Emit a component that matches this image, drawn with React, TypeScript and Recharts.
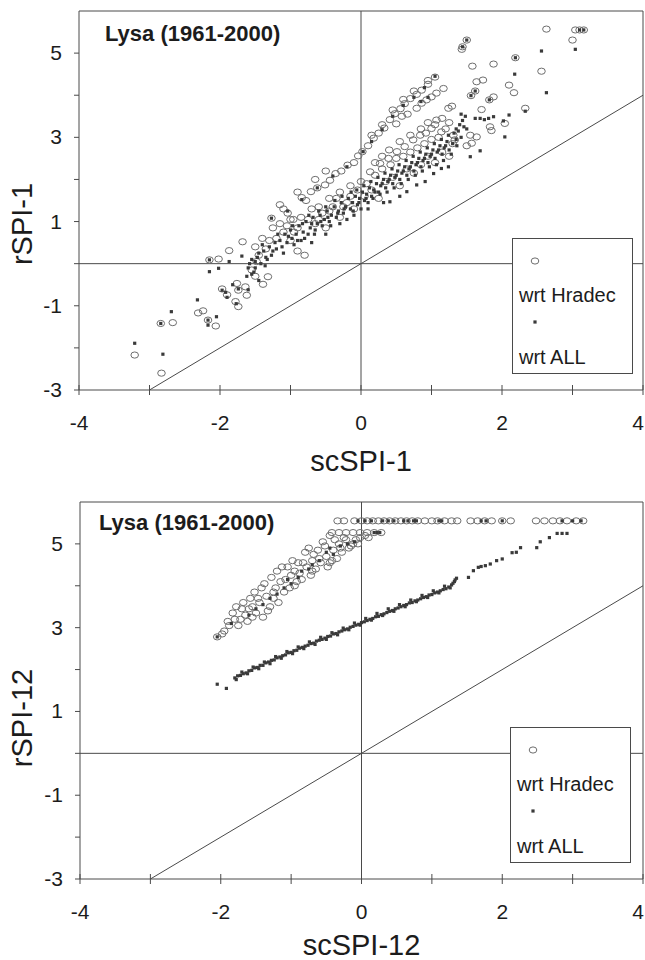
import React from "react";
import {
  Customized,
  Label,
  Legend,
  ReferenceLine,
  Scatter,
  ScatterChart,
  XAxis,
  YAxis,
} from "recharts";

// scSPI-1 vs rSPI-1, circles = wrt Hradec, squares = wrt ALL
const hradec1: [number, number][] = [
  [-3.21, -2.17], [-2.83, -2.6], [-2.84, -1.42], [-2.67, -1.4], [-2.31, -1.17], [-2.24, -1.12],
  [-2.17, -1.34], [-2.06, -1.48], [-2.15, 0.09], [-2.02, 0.11], [-1.87, 0.31], [-1.68, 0.52],
  [-1.97, -0.6], [-1.9, -0.74], [-1.76, -0.47], [-1.74, -0.63], [-1.78, -0.9], [-1.74, -1.02],
  [-1.64, -0.55], [-1.62, -0.75], [-1.39, -0.49], [-1.32, -0.31], [-1.55, -0.15], [-1.48, 0.05],
  [-1.5, -0.3],
  [-1.27, 1.08], [-1.1, 1.3], [-1.04, 1.2], [-0.96, 1.05], [-0.84, 1.57], [-0.78, 1.5],
  [-0.71, 1.71], [-0.62, 1.8], [-0.51, 1.87], [-0.44, 1.98], [-0.36, 2.14], [-0.28, 2.2],
  [-0.19, 2.34], [-0.1, 2.4], [-0.04, 2.56], [0.02, 2.66], [0.1, 2.8], [0.18, 2.98],
  [0.25, 3.1], [0.33, 3.22], [0.41, 3.42], [0.48, 3.56], [0.56, 3.68], [0.62, 3.8],
  [0.7, 3.92], [0.79, 4.02], [0.86, 4.12], [0.95, 4.26], [1.05, 4.43],
  [0.5, 3.32], [0.58, 3.5], [0.66, 3.55], [0.79, 3.69], [0.86, 3.81], [0.93, 3.89],
  [1.0, 3.96], [1.07, 4.05], [1.17, 4.16],
  [-0.6, 1.35], [-0.45, 1.55], [-0.3, 1.7], [-0.15, 1.85], [0.0, 1.95], [0.13, 2.18],
  [0.27, 2.38], [0.39, 2.5], [0.51, 2.66], [0.62, 2.78], [0.74, 2.94], [0.84, 3.05],
  [1.0, 3.21], [1.07, 3.41], [1.14, 3.13], [1.05, 3.3], [0.92, 3.1],
  [-1.45, 0.2], [-1.35, 0.35], [-1.2, 0.6], [-1.1, 0.75], [-1.0, 0.55], [-0.9, 0.85],
  [-0.8, 0.2], [-0.75, 1.05], [-0.65, 0.95], [-0.55, 1.2], [-0.5, 0.85], [-0.4, 1.35],
  [-0.3, 1.1], [-0.2, 1.45], [-0.1, 1.3], [0.05, 1.6], [0.15, 1.75], [0.25, 1.55],
  [0.35, 1.95], [0.45, 2.05], [0.55, 1.85], [0.65, 2.25], [0.75, 2.15], [0.85, 2.35],
  [0.95, 2.55], [1.05, 2.4], [1.15, 2.65], [1.25, 2.55], [1.3, 2.85], [-0.9, 0.3],
  [-1.3, 0.55], [-1.0, 1.05],
  [-1.5, 0.4], [-1.4, 0.6], [-1.25, 0.85], [-1.15, 0.95], [-1.05, 0.9], [-0.95, 0.75],
  [-0.85, 1.1], [-0.7, 1.3], [-0.6, 1.05], [-0.45, 1.25], [-0.35, 1.55], [-0.25, 1.35],
  [-0.15, 1.6], [-0.05, 1.75], [0.08, 1.9], [0.2, 2.1], [0.3, 2.25], [0.42, 2.35],
  [0.5, 2.5], [0.6, 2.55], [0.7, 2.65], [0.8, 2.75], [0.9, 2.85], [1.0, 2.95],
  [1.1, 3.0], [1.2, 3.2], [1.25, 3.35], [1.15, 3.45], [0.95, 3.35], [0.85, 3.2],
  [0.7, 3.05], [0.55, 2.9], [0.4, 2.7], [0.3, 2.55], [0.2, 2.4], [-0.65, 2.0],
  [-0.5, 2.2], [-0.9, 1.7], [-1.15, 1.4], [0.15, 3.05], [0.3, 3.3], [0.45, 3.65],
  [0.6, 3.9], [0.75, 4.1], [0.95, 4.35],
  [1.31, 3.05], [1.33, 2.94], [1.29, 3.74], [1.24, 3.69], [1.55, 3.05], [1.64, 3.01],
  [1.57, 2.86], [1.5, 2.8], [1.83, 3.25], [1.85, 3.16], [2.04, 3.33], [2.33, 3.69],
  [1.71, 3.66], [1.82, 3.89], [1.88, 3.96], [1.56, 3.99], [1.62, 4.1], [2.1, 4.24],
  [2.17, 4.06], [1.64, 4.32], [1.73, 4.36], [1.58, 4.69], [1.88, 4.74], [2.19, 4.89],
  [2.56, 4.57], [1.5, 5.31], [1.44, 5.15], [1.43, 5.09], [2.63, 5.57], [3.04, 5.55],
  [3.1, 5.55], [3.16, 5.55], [3.0, 5.31],
];

const all1: [number, number][] = [
  [-3.21, -1.89], [-2.81, -2.15], [-2.69, -1.14], [-2.84, -1.42], [-2.32, -0.86], [-2.17, -1.34],
  [-2.05, -1.26], [-2.17, -1.46], [-2.15, -0.19], [-2.15, 0.09], [-1.87, 0.05], [-2.02, -0.11],
  [-1.69, 0.18], [-1.97, -0.63], [-1.92, -0.68], [-1.9, -0.8], [-1.74, -0.6], [-1.77, -0.95],
  [-1.6, -0.62], [-1.82, -0.5], [-1.55, -0.25], [-1.45, -0.4], [-1.5, -0.1],
  [-1.27, 1.08], [-1.04, 1.25], [-0.84, 1.52], [-0.62, 1.8], [-0.4, 2.08], [-0.2, 2.3],
  [0.03, 2.66], [0.15, 2.9], [0.3, 3.18], [0.45, 3.5], [0.6, 3.76], [0.75, 3.95],
  [0.9, 4.18], [1.05, 4.45], [0.85, 3.85], [0.95, 3.95],
  [-1.6, -0.1], [-1.55, 0.1], [-1.5, 0.05], [-1.45, 0.25], [-1.42, 0.0], [-1.38, 0.3],
  [-1.35, 0.15], [-1.3, 0.4], [-1.27, 0.2], [-1.22, 0.5], [-1.2, 0.35], [-1.15, 0.55],
  [-1.12, 0.4], [-1.08, 0.7], [-1.05, 0.5], [-1.0, 0.8], [-0.98, 0.6], [-0.95, 0.45],
  [-0.92, 0.7], [-0.88, 0.9], [-0.85, 0.55], [-0.82, 0.75], [-0.78, 1.0], [-0.75, 0.7],
  [-0.72, 0.85], [-0.68, 1.1], [-0.65, 0.8], [-0.62, 0.95], [-0.58, 1.15], [-0.55, 0.9],
  [-0.52, 1.05], [-0.48, 1.25], [-0.45, 1.0], [-0.42, 1.15], [-0.38, 1.35], [-0.35, 1.1],
  [-0.32, 1.25], [-0.28, 1.45], [-0.25, 1.2], [-0.22, 1.35], [-0.18, 1.55], [-0.15, 1.3],
  [-0.12, 1.45], [-0.08, 1.6], [-0.05, 1.4], [-0.02, 1.55], [0.02, 1.7], [0.05, 1.5],
  [0.08, 1.65], [0.12, 1.8], [0.15, 1.6], [0.18, 1.75], [0.22, 1.9], [0.25, 1.7],
  [0.28, 1.85], [0.32, 2.0], [0.35, 1.8], [0.38, 1.95], [0.42, 2.1], [0.45, 1.9],
  [0.48, 2.05], [0.52, 2.2], [0.55, 2.0], [0.58, 2.15], [0.62, 2.3], [0.65, 2.1],
  [0.68, 2.25], [0.72, 2.4], [0.75, 2.2], [0.78, 2.35], [0.82, 2.5], [0.85, 2.3],
  [0.88, 2.45], [0.92, 2.6], [0.95, 2.4], [0.98, 2.55], [1.02, 2.7], [1.05, 2.5],
  [1.08, 2.65], [1.12, 2.8], [1.15, 2.6], [1.18, 2.75], [1.22, 2.9], [1.25, 2.7],
  [1.3, 2.85], [1.35, 2.95],
  [-1.4, 0.45], [-1.33, 0.1], [-1.25, 0.3], [-1.18, 0.7], [-1.1, 0.25], [-1.03, 0.65],
  [-0.97, 0.9], [-0.9, 0.55], [-0.83, 0.95], [-0.8, 0.6], [-0.74, 1.15], [-0.7, 0.95],
  [-0.66, 0.7], [-0.6, 1.25], [-0.57, 1.0], [-0.5, 1.35], [-0.47, 1.1], [-0.43, 0.9],
  [-0.37, 1.5], [-0.33, 1.2], [-0.27, 1.6], [-0.24, 1.3], [-0.2, 1.05], [-0.14, 1.7],
  [-0.11, 1.25], [-0.06, 1.75], [-0.03, 1.45], [0.0, 1.3], [0.04, 1.85], [0.07, 1.55],
  [0.1, 1.45], [0.14, 1.95], [0.17, 1.55], [0.2, 1.7], [0.24, 2.05], [0.27, 1.65],
  [0.3, 1.9], [0.34, 2.15], [0.37, 1.7], [0.4, 2.0], [0.44, 2.25], [0.47, 1.8],
  [0.5, 2.1], [0.54, 2.35], [0.57, 1.9], [0.6, 2.2], [0.64, 2.45], [0.67, 2.0],
  [0.7, 2.3], [0.74, 2.55], [0.77, 2.1], [0.8, 2.4], [0.84, 2.65], [0.87, 2.2],
  [0.9, 2.5], [0.94, 2.75], [0.97, 2.3], [1.0, 2.6], [1.04, 2.85], [1.07, 2.35],
  [1.1, 2.7], [1.14, 2.95], [1.17, 2.45], [1.2, 2.8], [1.24, 3.05], [1.28, 2.6],
  [1.32, 3.1], [1.36, 2.8], [1.38, 3.15], [1.42, 3.0], [1.46, 3.25], [-1.62, -0.3],
  [-1.58, 0.0], [-1.52, -0.2], [-1.47, 0.15], [-1.36, -0.05],
  [0.32, 1.45], [0.41, 1.47], [0.55, 1.6], [0.65, 1.71], [0.79, 1.87], [0.91, 1.95],
  [1.03, 2.14], [1.14, 2.26], [1.24, 2.3], [0.1, 1.3], [-0.1, 1.15], [-0.3, 0.95],
  [-0.5, 0.7], [-0.7, 0.5],
  [1.4, 3.3], [1.44, 3.4], [1.48, 3.5], [1.42, 3.55], [1.62, 3.45], [1.69, 3.45],
  [1.81, 3.45], [1.88, 3.49], [1.75, 3.42], [2.1, 3.53], [2.02, 3.39], [2.04, 3.01],
  [1.69, 2.68], [1.55, 2.54], [2.33, 3.62], [1.56, 3.99], [1.62, 4.1], [1.82, 3.89],
  [2.18, 4.5], [2.63, 4.06], [2.19, 4.89], [2.56, 5.05], [3.04, 5.09], [1.5, 5.31],
  [1.44, 5.15], [3.1, 5.55], [3.16, 5.55], [1.35, 3.2], [1.5, 3.2],
];

// scSPI-12 vs rSPI-12
const hradec12: [number, number][] = [
  [-2.05, 2.78], [-1.95, 2.92], [-1.88, 3.05], [-1.8, 3.2], [-1.75, 3.05], [-1.7, 3.45],
  [-1.65, 3.3], [-1.62, 3.15], [-1.58, 3.7], [-1.55, 3.5], [-1.5, 3.35], [-1.45, 3.6],
  [-1.42, 3.95], [-1.4, 3.25], [-1.35, 3.75], [-1.3, 3.5], [-1.25, 3.85], [-1.2, 4.35],
  [-1.18, 3.6], [-1.15, 4.1], [-1.1, 3.85], [-1.05, 4.45], [-1.02, 3.95], [-1.0, 4.25],
  [-0.95, 4.0], [-0.9, 4.55], [-0.88, 4.3], [-0.85, 4.15], [-0.8, 4.8], [-0.78, 4.45],
  [-0.72, 4.25], [-0.7, 4.6], [-0.65, 4.4], [-0.62, 4.85], [-0.58, 4.55], [-0.55, 5.05],
  [-0.5, 4.7], [-0.48, 4.45], [-0.45, 5.2], [-0.4, 4.85], [-0.35, 4.65], [-0.32, 5.0],
  [-0.28, 4.8], [-0.22, 5.1], [-0.18, 4.9], [-0.12, 5.0], [-0.08, 5.1], [-0.02, 5.15],
  [0.05, 5.2],
  [-1.98, 2.85], [-1.9, 3.15], [-1.83, 3.35], [-1.78, 3.5], [-1.72, 3.2], [-1.68, 3.6],
  [-1.6, 3.45], [-1.52, 3.85], [-1.47, 3.7], [-1.38, 4.05], [-1.33, 3.4], [-1.28, 4.2],
  [-1.22, 3.95], [-1.13, 4.45], [-1.08, 4.15], [-0.98, 4.6], [-0.92, 4.1], [-0.83, 4.55],
  [-0.75, 4.9], [-0.68, 4.75], [-0.6, 4.65], [-0.52, 4.95], [-0.42, 4.6], [-0.38, 5.1],
  [-0.3, 4.9], [-0.25, 5.15], [-0.15, 4.95], [-0.05, 5.0], [0.1, 5.15], [-1.55, 3.25],
  [-1.25, 3.7], [-0.95, 4.35], [-0.7, 4.35], [-0.45, 4.55],
  [-0.42, 5.27], [-0.32, 5.27], [-0.22, 5.27], [-0.12, 5.27], [-0.02, 5.27], [0.08, 5.27],
  [0.18, 5.27], [0.28, 5.27],
  [-0.34, 5.55], [-0.25, 5.55], [-0.1, 5.55], [0.0, 5.55], [0.08, 5.55], [0.16, 5.55],
  [0.24, 5.55], [0.32, 5.55], [0.4, 5.55], [0.48, 5.55], [0.56, 5.55], [0.64, 5.55],
  [0.72, 5.55], [0.8, 5.55], [0.9, 5.55], [1.0, 5.55], [1.08, 5.55], [1.18, 5.55],
  [1.28, 5.55], [1.36, 5.55], [1.55, 5.55], [1.65, 5.55], [1.75, 5.55], [1.85, 5.55],
  [2.0, 5.55], [2.12, 5.55], [2.48, 5.55], [2.6, 5.55], [2.72, 5.55], [2.82, 5.55],
  [2.92, 5.55], [3.05, 5.55], [3.15, 5.55],
];

const all12: [number, number][] = [
  [-2.05, 1.65], [-1.92, 1.55], [-1.8, 1.8], [-1.76, 1.85], [-1.72, 1.86], [-1.68, 1.9],
  [-1.64, 1.92], [-1.6, 1.97], [-1.56, 1.98], [-1.52, 2.04], [-1.48, 2.05], [-1.44, 2.1],
  [-1.4, 2.1], [-1.36, 2.16], [-1.32, 2.18], [-1.28, 2.22], [-1.24, 2.23], [-1.2, 2.28],
  [-1.16, 2.3], [-1.12, 2.33], [-1.08, 2.35], [-1.04, 2.4], [-1.0, 2.41], [-0.96, 2.45],
  [-0.92, 2.46], [-0.88, 2.51], [-0.84, 2.53], [-0.8, 2.56], [-0.76, 2.58], [-0.72, 2.62],
  [-0.68, 2.63], [-0.64, 2.68], [-0.6, 2.7], [-0.56, 2.72], [-0.52, 2.75], [-0.48, 2.79],
  [-0.44, 2.8], [-0.4, 2.85], [-0.36, 2.86], [-0.32, 2.9], [-0.28, 2.92], [-0.24, 2.95],
  [-0.2, 2.97], [-0.16, 3.01], [-0.12, 3.03], [-0.08, 3.06], [-0.04, 3.08], [0.0, 3.12],
  [0.04, 3.14], [0.08, 3.17], [0.12, 3.2], [0.16, 3.22], [0.2, 3.26], [0.24, 3.27],
  [0.28, 3.31], [0.32, 3.33], [0.36, 3.36], [0.4, 3.39], [0.44, 3.41], [0.48, 3.45],
  [0.52, 3.47], [0.56, 3.5], [0.6, 3.53], [0.64, 3.55], [0.68, 3.59], [0.72, 3.6],
  [0.76, 3.64], [0.8, 3.66], [0.84, 3.69], [0.88, 3.72], [0.92, 3.74], [0.96, 3.78],
  [1.0, 3.79], [1.04, 3.83], [1.08, 3.85], [1.12, 3.88], [1.16, 3.91], [1.2, 3.93],
  [1.24, 3.97], [1.28, 4.02], [1.32, 4.1], [1.35, 4.18],
  [-1.78, 1.76], [-1.7, 1.94], [-1.62, 1.9], [-1.54, 2.06], [-1.46, 2.02], [-1.38, 2.18],
  [-1.3, 2.14], [-1.22, 2.31], [-1.14, 2.27], [-1.06, 2.43], [-0.98, 2.38], [-0.9, 2.54],
  [-0.82, 2.5], [-0.74, 2.66], [-0.66, 2.6], [-0.58, 2.77], [-0.5, 2.72], [-0.42, 2.88],
  [-0.34, 2.83], [-0.26, 2.99], [-0.18, 2.95], [-0.1, 3.11], [-0.02, 3.06], [0.06, 3.22],
  [0.14, 3.18], [0.22, 3.34], [0.3, 3.29], [0.38, 3.45], [0.46, 3.39], [0.54, 3.55],
  [0.62, 3.5], [0.7, 3.66], [0.78, 3.62], [0.86, 3.77], [0.94, 3.72], [1.02, 3.88],
  [1.1, 3.83], [1.18, 3.99], [1.26, 3.95], [1.3, 4.06], [1.33, 4.14],
  [1.52, 4.2], [1.59, 4.36], [1.66, 4.44], [1.7, 4.46], [1.76, 4.48], [1.83, 4.52],
  [1.92, 4.6], [2.0, 4.64], [2.14, 4.79], [2.2, 4.8], [2.26, 4.91], [2.49, 4.91],
  [2.54, 5.05], [2.67, 5.15], [2.78, 5.25], [2.85, 5.25], [2.92, 5.25],
  [-2.05, 2.78], [-1.85, 3.1], [-1.6, 3.3], [-1.5, 3.45], [-1.4, 3.55], [-1.3, 3.7],
  [-1.2, 3.8], [-1.1, 3.95], [-1.05, 4.15], [-1.0, 4.05], [-0.9, 4.2], [-0.85, 4.35],
  [-0.75, 4.4], [-0.7, 4.5], [-0.6, 4.6], [-0.5, 4.8], [-0.45, 4.9], [-0.4, 4.75],
  [-0.3, 4.95], [-0.2, 5.0], [-0.1, 5.05],
  [0.18, 5.27], [0.22, 5.27], [0.26, 5.27], [-0.05, 5.55], [0.05, 5.55], [0.14, 5.55],
  [0.3, 5.55], [0.38, 5.55], [0.46, 5.55], [0.6, 5.55], [0.66, 5.55], [0.74, 5.55],
  [0.78, 5.55], [1.1, 5.55], [1.14, 5.55], [1.7, 5.55], [1.77, 5.55], [2.0, 5.55],
  [2.85, 5.55], [3.0, 5.55], [3.12, 5.55],
];

const xTicks = [-4, -3, -2, -1, 0, 1, 2, 3, 4];
const yTicks = [-3, -2, -1, 0, 1, 2, 3, 4, 5];
const xLabelled = [-4, -2, 0, 2, 4];
const yLabelled = [-3, -1, 1, 3, 5];

const FONT = '"Liberation Sans", Arial, sans-serif';
const LINE = "#4a4a4a";
const TEXT = "#1c1c1c";

const toPoints = (pairs: [number, number][]) => pairs.map(([x, y]) => ({ x, y }));

function XTick({ x, y, payload }: any) {
  const v = payload.value;
  // last label sits on the page edge, pull it in so it is not clipped
  const tx = v === 4 ? x - 5 : x;
  return (
    <g>
      <line x1={x} x2={x} y1={y - 5} y2={y + 5} stroke={LINE} />
      {xLabelled.includes(v) && (
        <text x={tx} y={y + 40} textAnchor="middle" fontSize={21} fill={TEXT} fontFamily={FONT}>
          {v}
        </text>
      )}
    </g>
  );
}

function YTick({ x, y, payload }: any) {
  const v = payload.value;
  return (
    <g>
      <line x1={x - 5} x2={x} y1={y} y2={y} stroke={LINE} />
      {yLabelled.includes(v) && (
        <text x={x - 17} y={y + 7} textAnchor="end" fontSize={21} fill={TEXT} fontFamily={FONT}>
          {v}
        </text>
      )}
    </g>
  );
}

const Ring = (p: any) => (
  <ellipse cx={p.cx} cy={p.cy} rx={3.8} ry={3.1} fill="none" stroke="#6e6e6e" strokeWidth={1} />
);
const Dot = (p: any) => <rect x={p.cx - 1.6} y={p.cy - 1.6} width={3.2} height={3.2} fill="#3a3a3a" />;

function LegendBox() {
  return (
    <div
      style={{
        width: 121,
        height: 136,
        boxSizing: "border-box",
        border: `1px solid ${LINE}`,
        background: "#fff",
        position: "relative",
      }}
    >
      <svg width={121} height={136} style={{ position: "absolute", left: -1, top: -1 }}>
        <ellipse cx={23} cy={23} rx={3.8} ry={3.1} fill="none" stroke="#6e6e6e" />
        <rect x={21.4} y={82.4} width={3.2} height={3.2} fill="#3a3a3a" />
        <text x={7} y={64} fontSize={20} fill={TEXT} fontFamily={FONT}>wrt Hradec</text>
        <text x={7} y={126} fontSize={20} fill={TEXT} fontFamily={FONT}>wrt ALL</text>
      </svg>
    </div>
  );
}

type PanelProps = {
  circles: [number, number][];
  squares: [number, number][];
  xTitle: string;
  yTitle: string;
  top: number;
  plotTop: number;
  axisW: number;
  axisH: number;
  titleOffset: number;
  yTitleCenter: number;
  stationX: number;
  stationY: number;
  legendTop: number;
  legendLeft: number;
};

function Panel(p: PanelProps) {
  return (
    <div style={{ position: "absolute", left: 0, top: p.top }}>
      <ScatterChart
        width={645}
        height={480}
        margin={{ top: p.plotTop, right: 2, bottom: 0, left: 0 }}
      >
        <XAxis
          type="number"
          dataKey="x"
          domain={[-4, 4]}
          ticks={xTicks}
          interval={0}
          tickSize={0}
          tickMargin={0}
          height={p.axisH}
          axisLine={{ stroke: LINE }}
          tick={<XTick />}
        >
          <Label
            value={p.xTitle}
            position="insideBottom"
            offset={p.titleOffset}
            fontSize={29}
            fill={TEXT}
            fontFamily={FONT}
          />
        </XAxis>
        <YAxis
          type="number"
          dataKey="y"
          domain={[-3, 6]}
          ticks={yTicks}
          interval={0}
          tickSize={0}
          tickMargin={0}
          width={p.axisW}
          axisLine={{ stroke: LINE }}
          tick={<YTick />}
        >
          <Label
            content={(lp: any) => (
              <text
                transform={`translate(32, ${lp.viewBox.y + p.yTitleCenter}) rotate(-90)`}
                textAnchor="middle"
                fontSize={29}
                fill={TEXT}
                fontFamily={FONT}
              >
                {p.yTitle}
              </text>
            )}
          />
        </YAxis>
        <ReferenceLine y={6} stroke={LINE} />
        <ReferenceLine x={4} stroke={LINE} />
        <ReferenceLine y={0} stroke={LINE} />
        <ReferenceLine x={0} stroke={LINE} />
        <ReferenceLine segment={[{ x: -3, y: -3 }, { x: 4, y: 4 }]} stroke={LINE} />
        <Scatter name="wrt Hradec" data={toPoints(p.circles)} shape={Ring} isAnimationActive={false} />
        <Scatter name="wrt ALL" data={toPoints(p.squares)} shape={Dot} isAnimationActive={false} />
        <Customized
          component={() => (
            <text x={p.stationX} y={p.stationY} fontSize={22} fontWeight="bold" fill={TEXT} fontFamily={FONT}>
              Lysa (1961-2000)
            </text>
          )}
        />
        <Legend
          layout="vertical"
          align="center"
          verticalAlign="middle"
          wrapperStyle={{ left: p.legendLeft, top: p.legendTop, width: 121, height: 136 }}
          content={() => <LegendBox />}
        />
      </ScatterChart>
    </div>
  );
}

export default function App() {
  return (
    <div style={{ position: "absolute", left: 0, top: 0, width: 645, height: 960, background: "#fff" }}>
      <Panel
        circles={hradec1}
        squares={all1}
        xTitle="scSPI-1"
        yTitle="rSPI-1"
        top={0}
        plotTop={11}
        axisW={79}
        axisH={90}
        titleOffset={9}
        yTitleCenter={213}
        stationX={105}
        stationY={41}
        legendLeft={512}
        legendTop={238}
      />
      <Panel
        circles={hradec12}
        squares={all12}
        xTitle="scSPI-12"
        yTitle="rSPI-12"
        top={480}
        plotTop={22}
        axisW={80}
        axisH={81}
        titleOffset={5}
        yTitleCenter={216}
        stationX={99}
        stationY={50}
        legendLeft={510}
        legendTop={247}
      />
    </div>
  );
}
